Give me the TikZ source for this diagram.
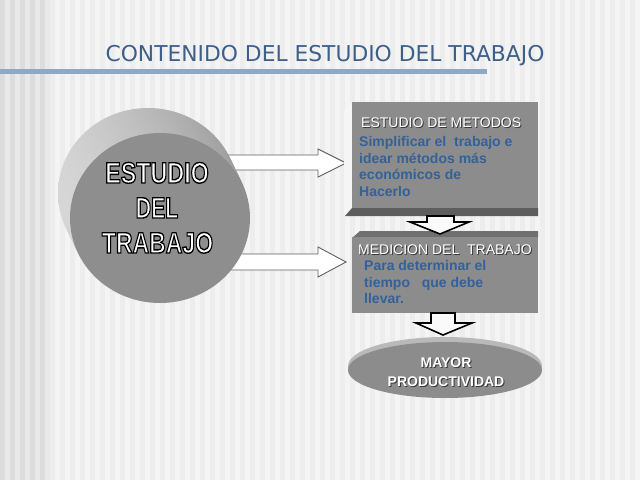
\documentclass[tikz,border=0pt]{standalone}
\usepackage{fontspec}
\usepackage{graphicx}
\setmainfont{Liberation Sans}
\newfontfamily\titlefont{DejaVu Sans}
\usetikzlibrary{shapes.geometric,calc}
\definecolor{bg}{HTML}{F4F4F4}
\definecolor{stripe}{HTML}{EDEDED}
\definecolor{leftA}{HTML}{DCDCDC}
\definecolor{leftB}{HTML}{E9E9E9}
\definecolor{titleblue}{HTML}{3D5F8A}
\definecolor{lineblue}{HTML}{8FA8C4}
\definecolor{bodyblue}{HTML}{33619A}
\definecolor{facegray}{HTML}{8E8E8E}
\definecolor{boxgray}{HTML}{8C8C8C}
\definecolor{slab}{HTML}{5E5E5E}
\definecolor{bevel}{HTML}{707070}
\definecolor{shadowgray}{HTML}{3A3A3A}
\newcommand{\strokedword}[1]{{\color{white}\special{pdf:literal direct 2 Tr 1.4 w 0 0 0 RG}#1\special{pdf:literal direct 0 Tr}}}
\newcommand{\shadowtext}[4]{%
  \node[#3,text=shadowgray] at ($(#1)+(1,1)$) {#2};
  \node[#3,text=white] (#4) at (#1) {#2};}
\begin{document}
\begin{tikzpicture}[x=1pt,y=-1pt,
  bigtxt/.style={anchor=base,inner sep=0pt,font=\bfseries\fontsize{29.5}{32}\selectfont},
  boxtitle/.style={anchor=base west,inner sep=0pt,font=\fontsize{14}{16}\selectfont},
  ovaltxt/.style={anchor=base,inner sep=0pt,font=\bfseries\fontsize{14}{16}\selectfont},
  bodytxt/.style={anchor=base west,inner sep=0pt,text=bodyblue,font=\bfseries\fontsize{14}{16}\selectfont},
  hollowright/.style={fill=white,draw=gray!75!black,line width=0.9pt,line join=miter},
  hollowdown/.style={fill=white!96!gray,draw=black,line width=1.6pt,line join=miter}]
\useasboundingbox (0,0) rectangle (640,480);
% background
\fill[bg] (0,0) rectangle (640,480);
\foreach \i in {50,60,...,630} \fill[stripe] (\i,0) rectangle ++(5,480);
\fill[leftA] (0,0) rectangle (48,480);
\foreach \i in {5,15,...,45} \fill[leftB] (\i,0) rectangle ++(5,480);
% title
\node[font=\titlefont\fontsize{21.8}{24}\selectfont,text=titleblue,inner sep=0pt,anchor=base] (title) at (325,61) {CONTENIDO DEL ESTUDIO DEL TRABAJO};
\fill[lineblue] (0,69) rectangle (487,74);
% right arrows
\draw[hollowright] (215,155) -- (318,155) -- (318,149) -- (346,163) -- (318,177) -- (318,170) -- (215,170) -- cycle;
\draw[hollowright] (215,254) -- (318,254) -- (318,247) -- (346,262) -- (318,277) -- (318,270) -- (215,270) -- cycle;
% circle extrusion
\foreach \t in {1,0.9,...,0.05}
  \shade[left color=gray!32,right color=gray!78] ($(160,218)+\t*(-12,-25)$) ellipse [x radius=90pt,y radius=85pt];
\node[ellipse,fill=facegray,minimum width=180pt,minimum height=170pt,inner sep=0pt] (circ) at (160,218) {};
\node[bigtxt] (c1) at (157,183) {\scalebox{0.79}[1]{\strokedword{ESTUDIO}}};
\node[bigtxt] (c2) at (157,218) {\scalebox{0.72}[1]{\strokedword{DEL}}};
\node[bigtxt] (c3) at (157.5,253) {\scalebox{0.78}[1]{\strokedword{TRABAJO}}};
% box 1
\fill[white!92!gray] (344,110) -- (352,102) -- (352,208) -- (344,216) -- cycle;
\node[rectangle,fill=boxgray,minimum width=186pt,minimum height=106pt,inner sep=0pt,anchor=north west] (box1) at (352,102) {};
\fill[slab] (352,208) -- (538,208) -- (538,216) -- (345,216) -- cycle;
\coordinate (t1) at (361,127);
\shadowtext{t1}{ESTUDIO DE METODOS}{boxtitle}{tt1}
\node[bodytxt] (b11) at (359,146) {Simplificar el\ \ trabajo e};
\node[bodytxt] (b12) at (359,163) {idear métodos más};
\node[bodytxt] (b13) at (359,179) {económicos de};
\node[bodytxt] (b14) at (359,196) {Hacerlo};
% box 2
\fill[bevel] (352,238) -- (360,231) -- (538,231) -- (538,238) -- cycle;
\node[rectangle,fill=boxgray,minimum width=186pt,minimum height=76pt,inner sep=0pt,anchor=north west] (box2) at (352,237) {};
\coordinate (t2) at (358,254);
\shadowtext{t2}{MEDICION DEL\ \ TRABAJO}{boxtitle}{tt2}
\node[bodytxt] (b21) at (364,270) {Para determinar el};
\node[bodytxt] (b22) at (364,287) {tiempo\ \ \ que debe};
\node[bodytxt] (b23) at (364,303) {llevar.};
% oval
\fill[gray!55] (445,366) ellipse [x radius=97pt,y radius=29pt];
\node[ellipse,fill=boxgray,minimum width=194pt,minimum height=56pt,inner sep=0pt] (oval) at (445,370) {};
\coordinate (o1) at (446,367);
\coordinate (o2) at (446,386);
\shadowtext{o1}{MAYOR}{ovaltxt}{ot1}
\shadowtext{o2}{PRODUCTIVIDAD}{ovaltxt}{ot2}
% down arrows
\draw[hollowdown] (427,216) -- (454,216) -- (454,222) -- (469,222) -- (440,234) -- (410,222) -- (427,222) -- cycle;
\draw[hollowdown] (431,313) -- (455,313) -- (455,323) -- (472,323) -- (443,335) -- (416,323) -- (431,323) -- cycle;
\end{tikzpicture}
\end{document}
